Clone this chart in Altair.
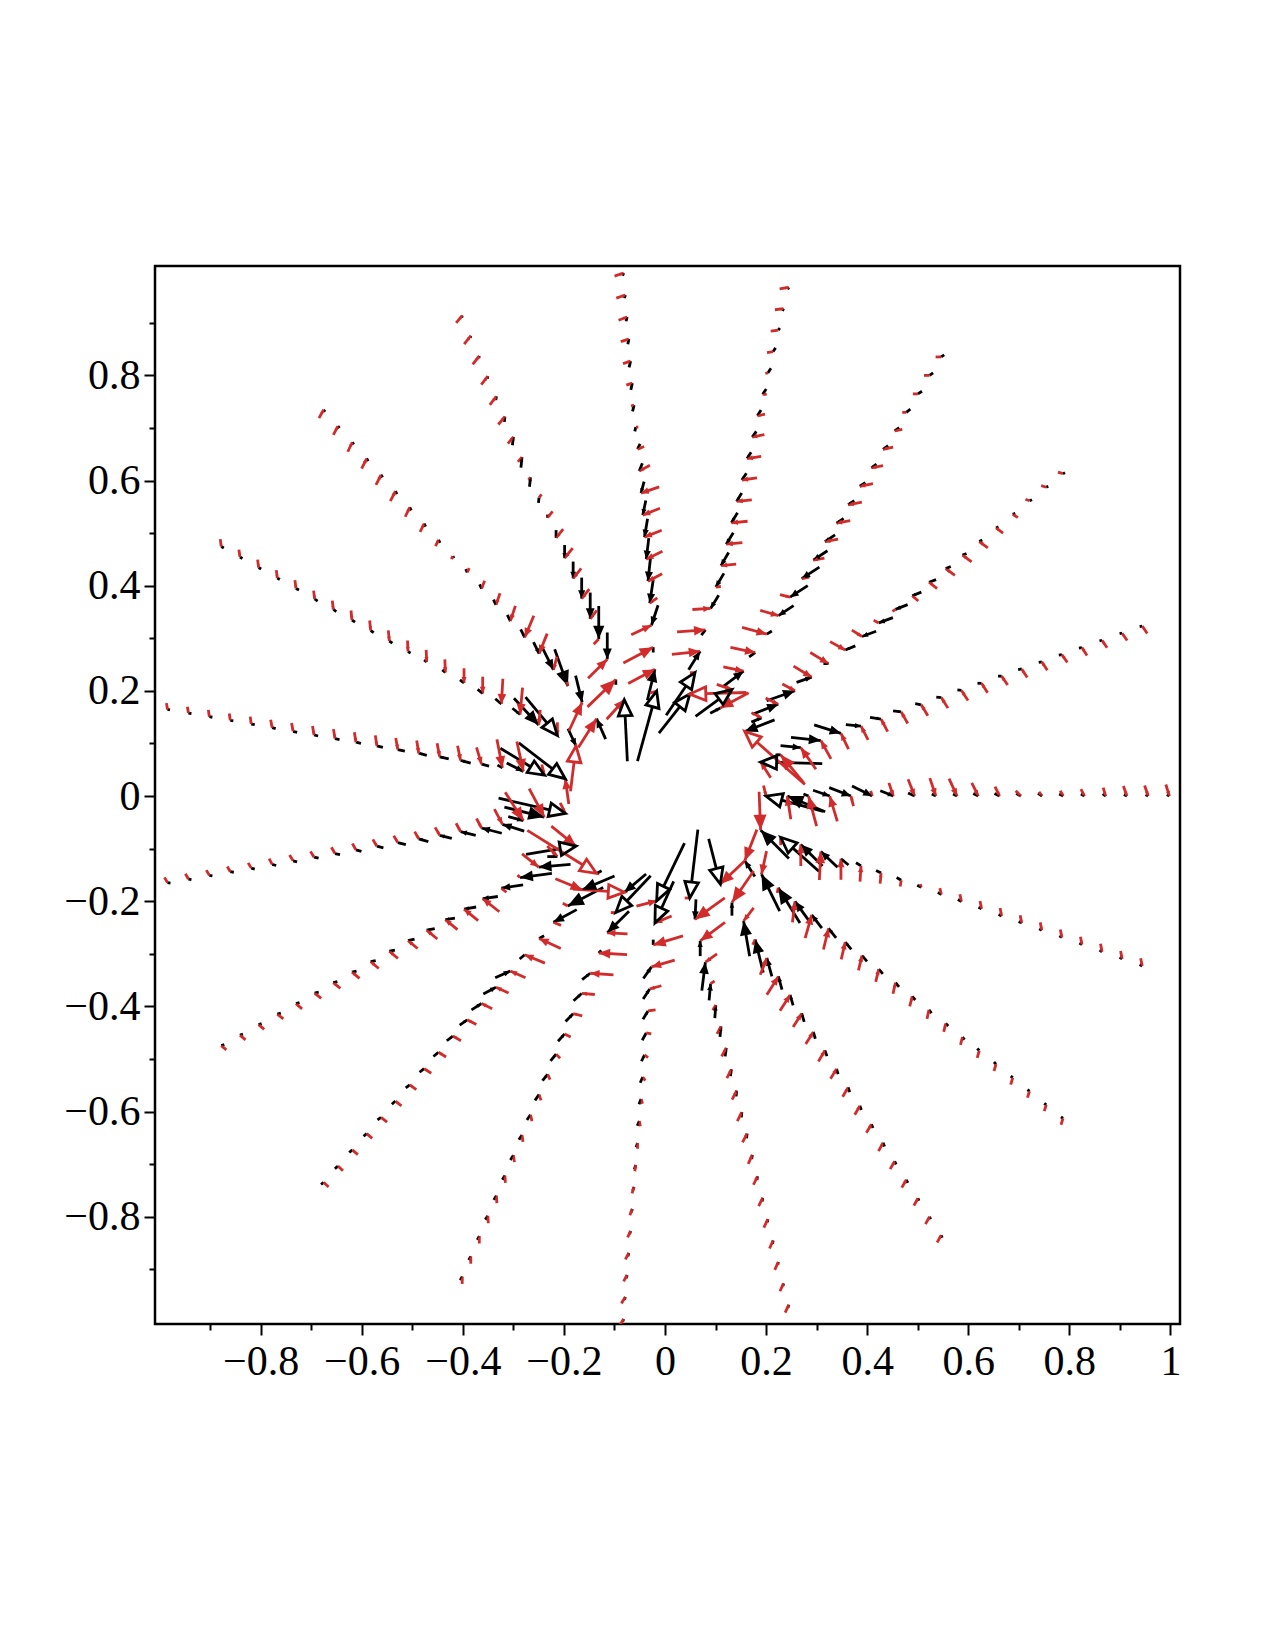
import math
import altair as alt
import pandas as pd

# ---------------- data ----------------
RAY_ANGLES = [0.0, 18.9, 37.9, 56.8, 75.8, 94.7, 113.7, 132.6, 151.6, 170.5,
              189.5, 208.4, 227.4, 246.3, 265.3, 284.2, 303.2, 322.1, 341.1]
RADII = [0.200, 0.242, 0.284, 0.326, 0.368, 0.410, 0.452, 0.494, 0.536, 0.578,
         0.620, 0.662, 0.704, 0.746, 0.788, 0.830, 0.872, 0.914, 0.956, 0.998]

# arrow vectors (dx, dy) per ray, innermost point first; each arrow ends at its point
BLACK = [
 [(-0.113,0.029),(-0.075,0.030),(0.010,-0.004),(0.033,-0.011),(0.043,-0.016),(0.040,-0.019),(0.026,-0.010),(0.013,-0.006),(0.008,-0.004),(0.008,-0.004),(0.010,-0.005),(0.010,-0.005),(0.009,-0.005),(0.008,-0.005),(0.008,-0.004),(0.007,-0.004),(0.006,-0.004),(0.006,-0.003),(0.005,-0.003),(0.005,-0.003)],
 [(-0.122,0.003),(0.010,0.000),(0.040,-0.004),(0.059,-0.006),(0.053,-0.016),(0.030,-0.003),(0.022,-0.003),(0.016,-0.002),(0.012,-0.002),(0.010,-0.001),(0.008,-0.001),(0.008,0.000),(0.007,0.000),(0.007,0.001),(0.006,0.001),(0.006,0.001),(0.006,0.001),(0.005,0.001),(0.005,0.001),(0.005,0.001)],
 [(-0.059,-0.022),(0.020,0.008),(0.051,0.019),(0.056,0.019),(0.030,0.010),(0.010,0.000),(-0.020,-0.008),(-0.028,-0.010),(-0.028,-0.010),(-0.024,-0.009),(-0.018,-0.007),(-0.014,-0.005),(-0.010,-0.004),(-0.008,-0.003),(-0.006,-0.003),(-0.005,-0.002),(-0.005,-0.002),(-0.005,-0.002),(-0.004,-0.002),(-0.004,-0.002)],
 [(0.020,0.010),(0.072,0.051),(0.040,0.029),(0.012,0.008),(-0.010,-0.006),(-0.030,-0.019),(-0.035,-0.022),(-0.035,-0.022),(-0.028,-0.018),(-0.020,-0.013),(-0.014,-0.009),(-0.012,-0.008),(-0.011,-0.007),(-0.010,-0.007),(-0.010,-0.007),(-0.009,-0.006),(-0.008,-0.006),(-0.008,-0.005),(-0.007,-0.005),(-0.006,-0.004)],
 [(0.061,0.074),(0.057,0.081),(0.023,0.035),(0.008,0.010),(-0.016,-0.025),(-0.016,-0.026),(-0.015,-0.025),(-0.014,-0.022),(-0.012,-0.019),(-0.010,-0.016),(-0.009,-0.013),(-0.008,-0.012),(-0.008,-0.011),(-0.007,-0.011),(-0.007,-0.010),(-0.006,-0.009),(-0.005,-0.007),(-0.003,-0.004),(0.002,0.004),(0.002,0.004)],
 [(0.038,0.133),(0.015,0.059),(0.000,0.010),(-0.013,-0.038),(-0.007,-0.045),(-0.005,-0.045),(-0.005,-0.040),(-0.006,-0.035),(-0.006,-0.028),(-0.006,-0.022),(-0.006,-0.015),(-0.005,-0.010),(0.002,0.008),(0.003,0.012),(0.003,0.013),(0.003,0.012),(0.002,0.010),(0.002,0.008),(0.002,0.006),(0.002,0.005)],
 [(-0.006,0.117),(0.000,0.010),(0.000,-0.051),(0.000,-0.063),(0.000,-0.050),(0.000,-0.040),(0.000,-0.032),(0.000,-0.025),(0.000,-0.015),(0.000,-0.006),(0.001,0.010),(0.002,0.018),(0.002,0.020),(0.002,0.016),(0.001,0.010),(0.001,0.007),(0.001,0.005),(0.001,0.004),(0.001,0.004),(0.001,0.004)],
 [(-0.018,0.039),(0.013,-0.051),(0.026,-0.070),(0.023,-0.044),(0.011,-0.022),(0.008,-0.015),(0.006,-0.012),(0.005,-0.010),(0.004,-0.008),(0.003,-0.006),(-0.002,0.004),(-0.003,0.006),(-0.003,0.006),(-0.003,0.006),(-0.003,0.006),(-0.003,0.005),(-0.003,0.005),(-0.003,0.004),(-0.003,0.004),(-0.003,0.004)],
 [(0.016,-0.033),(0.063,-0.073),(0.049,-0.051),(0.015,-0.012),(0.012,-0.010),(0.010,-0.008),(0.008,-0.006),(0.006,-0.005),(0.005,-0.004),(-0.005,0.003),(-0.006,0.004),(-0.006,0.004),(-0.006,0.004),(-0.006,0.004),(-0.006,0.004),(-0.006,0.003),(-0.005,0.003),(-0.005,0.003),(-0.005,0.003),(-0.005,0.003)],
 [(0.092,-0.068),(0.087,-0.051),(0.033,-0.016),(0.010,-0.005),(-0.015,0.004),(-0.020,0.005),(-0.018,0.004),(-0.016,0.004),(-0.014,0.003),(-0.012,0.003),(-0.010,0.002),(-0.009,0.002),(-0.008,0.002),(-0.008,0.002),(-0.007,0.002),(-0.007,0.001),(-0.006,0.001),(-0.006,0.001),(-0.006,0.001),(-0.005,0.001)],
 [(0.132,-0.029),(0.079,-0.019),(0.030,-0.008),(-0.043,0.013),(-0.040,0.010),(-0.030,0.007),(-0.024,0.006),(-0.019,0.005),(-0.016,0.004),(-0.013,0.003),(-0.011,0.003),(-0.010,0.002),(-0.009,0.002),(-0.008,0.002),(-0.008,0.002),(-0.007,0.002),(-0.007,0.001),(-0.006,0.001),(-0.006,0.001),(-0.006,0.001)],
 [(0.099,0.016),(0.020,0.000),(-0.063,-0.005),(-0.063,-0.008),(-0.043,-0.006),(-0.030,-0.004),(-0.024,-0.004),(-0.019,-0.003),(-0.016,-0.003),(-0.013,-0.003),(-0.011,-0.002),(-0.010,-0.002),(-0.009,-0.002),(-0.008,-0.002),(-0.008,-0.002),(-0.007,-0.002),(-0.007,-0.002),(-0.006,-0.002),(-0.006,-0.002),(-0.006,-0.002)],
 [(-0.010,-0.005),(-0.064,-0.026),(-0.070,-0.035),(-0.046,-0.024),(-0.010,-0.005),(0.010,0.008),(0.030,0.013),(0.025,0.013),(0.020,0.012),(0.015,0.010),(0.012,0.009),(0.010,0.008),(0.009,0.007),(0.008,0.006),(0.007,0.006),(0.007,0.005),(0.006,0.005),(0.006,0.005),(0.006,0.005),(0.005,0.004)],
 [(-0.043,-0.035),(-0.069,-0.070),(-0.043,-0.041),(-0.005,-0.005),(0.016,0.012),(0.016,0.014),(0.015,0.015),(0.013,0.014),(0.011,0.013),(0.010,0.012),(0.008,0.011),(0.007,0.010),(0.006,0.009),(0.006,0.009),(0.005,0.008),(0.005,0.008),(0.005,0.007),(0.004,0.007),(0.004,0.007),(0.004,0.007)],
 [(-0.055,-0.110),(-0.037,-0.079),(0.000,-0.010),(0.016,0.022),(0.013,0.019),(0.010,0.016),(0.008,0.014),(0.006,0.012),(0.005,0.011),(0.004,0.010),(0.004,0.009),(0.003,0.008),(0.003,0.008),(0.003,0.007),(0.003,0.007),(0.002,0.006),(0.002,0.006),(0.002,0.006),(0.002,0.005),(0.002,0.005)],
 [(-0.016,-0.130),(-0.002,-0.038),(0.000,0.029),(0.007,0.054),(0.003,0.032),(0.002,0.025),(0.002,0.020),(0.002,0.016),(0.002,0.013),(0.001,0.011),(0.001,0.010),(0.001,0.009),(0.001,0.008),(0.001,0.007),(0.001,0.007),(0.001,0.006),(0.001,0.006),(0.001,0.005),(0.001,0.005),(0.001,0.005)],
 [(0.023,-0.086),(0.000,0.025),(-0.012,0.067),(-0.016,0.063),(-0.010,0.035),(-0.007,0.025),(-0.006,0.020),(-0.005,0.016),(-0.004,0.013),(-0.004,0.011),(-0.003,0.010),(-0.003,0.009),(-0.003,0.008),(-0.003,0.007),(-0.003,0.007),(-0.003,0.006),(-0.003,0.006),(-0.002,0.005),(-0.002,0.005),(-0.002,0.005)],
 [(-0.020,0.030),(-0.036,0.070),(-0.043,0.067),(-0.030,0.040),(-0.020,0.025),(-0.015,0.018),(-0.012,0.014),(-0.010,0.011),(-0.008,0.009),(-0.007,0.008),(-0.006,0.007),(-0.005,0.006),(-0.005,0.005),(-0.004,0.005),(0.004,-0.004),(0.004,-0.004),(0.004,-0.003),(0.004,-0.003),(0.004,-0.003),(0.004,-0.003)],
 [(-0.056,0.054),(-0.076,0.065),(-0.043,0.041),(-0.033,0.030),(-0.015,0.012),(0.010,-0.006),(0.010,-0.005),(0.009,-0.005),(0.008,-0.004),(0.007,-0.004),(0.007,-0.004),(0.006,-0.003),(0.006,-0.003),(0.006,-0.003),(0.005,-0.003),(0.005,-0.003),(0.005,-0.003),(0.005,-0.003),(0.005,-0.003),(0.005,-0.003)],
]
RED = [
 [(0.005,-0.020),(-0.007,0.044),(-0.016,0.057),(-0.015,0.048),(-0.005,0.019),(0.003,-0.010),(0.009,-0.025),(0.013,-0.032),(0.012,-0.034),(0.016,-0.033),(0.013,-0.025),(0.009,-0.018),(0.010,-0.010),(0.006,-0.008),(0.006,-0.010),(0.007,-0.013),(0.005,-0.016),(0.007,-0.019),(0.007,-0.020),(0.007,-0.022)],
 [(-0.020,0.030),(-0.046,0.054),(-0.030,0.041),(-0.020,0.035),(-0.015,0.030),(-0.014,0.026),(-0.013,0.024),(-0.013,0.022),(-0.013,0.021),(-0.013,0.020),(-0.013,0.019),(-0.012,0.018),(-0.012,0.017),(-0.011,0.016),(-0.011,0.016),(-0.011,0.015),(-0.010,0.015),(-0.010,0.014),(-0.010,0.014),(-0.010,0.014)],
 [(-0.119,0.101),(0.020,-0.010),(0.025,-0.012),(0.025,-0.013),(0.036,-0.021),(0.036,-0.021),(0.030,-0.016),(0.020,-0.012),(0.010,-0.005),(0.006,0.004),(-0.012,0.010),(-0.016,0.012),(-0.018,0.013),(-0.018,0.013),(-0.017,0.012),(-0.014,0.010),(-0.010,0.006),(0.008,-0.003),(0.010,-0.003),(0.010,-0.003)],
 [(-0.056,-0.029),(0.030,-0.010),(0.040,-0.008),(0.049,-0.010),(0.049,-0.013),(0.036,-0.010),(0.020,-0.005),(-0.015,-0.003),(-0.022,-0.004),(-0.026,-0.005),(-0.027,-0.005),(-0.027,-0.005),(-0.026,-0.005),(-0.023,-0.004),(-0.020,-0.004),(-0.015,-0.003),(0.008,0.000),(0.010,0.000),(0.011,0.000),(0.011,0.000)],
 [(-0.112,-0.003),(0.010,0.000),(0.056,0.006),(0.056,0.004),(0.036,0.002),(-0.010,-0.001),(-0.030,-0.003),(-0.032,-0.003),(-0.032,-0.003),(-0.030,-0.003),(-0.030,-0.004),(-0.028,-0.004),(-0.024,-0.005),(-0.015,-0.003),(-0.008,0.000),(0.005,0.001),(0.012,0.002),(0.015,0.002),(0.017,0.002),(0.018,0.003)],
 [(0.013,0.003),(0.053,0.027),(0.059,0.030),(0.040,0.018),(-0.015,-0.010),(-0.028,-0.014),(-0.032,-0.015),(-0.034,-0.013),(-0.034,-0.013),(-0.036,-0.012),(-0.021,-0.011),(-0.013,-0.005),(-0.005,0.000),(0.006,0.002),(0.012,0.004),(0.015,0.005),(0.016,0.005),(0.017,0.006),(0.018,0.006),(0.018,0.006)],
 [(0.035,0.037),(0.056,0.052),(0.038,0.036),(0.010,0.010),(-0.013,-0.016),(-0.015,-0.018),(-0.016,-0.019),(-0.016,-0.019),(-0.014,-0.017),(-0.010,-0.012),(-0.005,-0.006),(0.004,0.005),(0.008,0.009),(0.011,0.013),(0.013,0.015),(0.013,0.016),(0.013,0.016),(0.013,0.016),(0.013,0.016),(0.012,0.014)],
 [(0.036,0.055),(0.026,0.054),(0.005,-0.020),(-0.007,-0.025),(-0.016,-0.038),(-0.018,-0.041),(-0.010,-0.029),(-0.008,-0.022),(-0.006,-0.015),(-0.004,-0.008),(0.003,0.006),(0.006,0.012),(0.008,0.016),(0.009,0.018),(0.010,0.019),(0.010,0.019),(0.010,0.019),(0.009,0.018),(0.009,0.017),(0.009,0.016)],
 [(0.011,0.086),(0.000,-0.025),(-0.003,-0.029),(-0.005,-0.051),(-0.003,-0.048),(0.000,-0.032),(0.000,-0.028),(0.001,-0.025),(0.001,-0.023),(0.001,-0.021),(0.002,-0.020),(0.002,-0.019),(0.002,-0.018),(0.002,-0.017),(0.002,-0.016),(0.002,-0.016),(0.002,-0.015),(0.002,-0.015),(0.002,-0.014),(0.002,-0.014)],
 [(-0.007,0.048),(0.005,-0.020),(0.013,-0.057),(0.011,-0.054),(0.010,-0.032),(0.006,-0.028),(0.005,-0.026),(0.004,-0.024),(0.004,-0.022),(0.003,-0.020),(0.003,-0.019),(0.003,-0.018),(0.003,-0.017),(0.003,-0.016),(0.003,-0.015),(0.002,-0.014),(0.002,-0.013),(0.002,-0.013),(0.002,-0.012),(0.002,-0.012)],
 [(0.010,-0.020),(0.030,-0.054),(0.036,-0.054),(0.016,-0.029),(0.010,-0.018),(0.009,-0.016),(0.009,-0.015),(0.008,-0.014),(0.008,-0.013),(0.008,-0.013),(0.007,-0.012),(0.007,-0.012),(0.007,-0.011),(0.007,-0.011),(0.006,-0.011),(0.006,-0.010),(0.006,-0.010),(0.006,-0.010),(0.006,-0.010),(0.006,-0.010)],
 [(0.049,-0.038),(0.020,-0.020),(0.033,-0.025),(0.005,-0.005),(-0.010,0.008),(-0.033,0.025),(-0.028,0.022),(-0.024,0.019),(-0.021,0.017),(-0.019,0.015),(-0.017,0.014),(-0.016,0.013),(-0.015,0.012),(-0.014,0.011),(-0.013,0.010),(-0.012,0.010),(-0.012,0.009),(-0.011,0.009),(-0.011,0.009),(-0.010,0.008)],
 [(0.137,-0.082),(0.053,-0.021),(0.010,-0.005),(-0.015,0.006),(-0.043,0.019),(-0.040,0.016),(-0.030,0.013),(-0.025,0.011),(-0.021,0.010),(-0.018,0.009),(-0.016,0.009),(-0.015,0.009),(-0.014,0.009),(-0.013,0.009),(-0.012,0.009),(-0.012,0.009),(-0.011,0.009),(-0.011,0.009),(-0.010,0.009),(-0.010,0.009)],
 [(0.102,-0.006),(0.010,0.000),(-0.040,0.002),(-0.056,0.003),(-0.046,0.003),(-0.026,0.002),(-0.018,0.004),(-0.012,0.006),(-0.008,0.008),(-0.005,0.010),(-0.004,0.011),(-0.003,0.012),(-0.002,0.013),(-0.002,0.013),(-0.001,0.014),(-0.001,0.014),(-0.001,0.014),(0.000,0.014),(0.000,0.014),(0.000,0.014)],
 [(0.040,0.010),(-0.033,-0.013),(-0.059,-0.017),(-0.046,-0.013),(-0.023,-0.006),(-0.015,-0.002),(-0.010,0.002),(-0.007,0.005),(-0.005,0.007),(-0.003,0.009),(-0.002,0.010),(0.000,0.011),(0.002,0.012),(0.004,0.012),(0.005,0.012),(0.006,0.012),(0.007,0.012),(0.007,0.012),(0.008,0.012),(0.008,0.012)],
 [(0.010,0.000),(-0.059,-0.041),(-0.049,-0.035),(-0.023,-0.016),(-0.008,-0.005),(0.006,0.010),(0.008,0.014),(0.009,0.016),(0.009,0.017),(0.009,0.017),(0.009,0.017),(0.009,0.017),(0.008,0.017),(0.008,0.016),(0.008,0.016),(0.008,0.016),(0.007,0.015),(0.007,0.015),(0.007,0.015),(0.007,0.015)],
 [(-0.048,-0.044),(-0.043,-0.060),(-0.020,-0.025),(0.005,0.010),(0.013,0.032),(0.023,0.035),(0.020,0.030),(0.017,0.026),(0.015,0.023),(0.013,0.021),(0.012,0.019),(0.011,0.018),(0.010,0.017),(0.010,0.016),(0.009,0.016),(0.009,0.015),(0.009,0.015),(0.008,0.014),(0.008,0.014),(0.008,0.014)],
 [(-0.024,-0.059),(-0.010,-0.044),(0.002,0.010),(0.005,0.040),(0.013,0.044),(0.010,0.040),(0.008,0.033),(0.007,0.028),(0.006,0.024),(0.005,0.021),(0.005,0.019),(0.004,0.017),(0.004,0.016),(0.004,0.015),(0.004,0.014),(0.004,0.013),(0.004,0.013),(0.004,0.012),(0.004,0.012),(0.004,0.012)],
 [(0.003,-0.073),(0.000,0.015),(0.000,0.041),(0.003,0.054),(0.000,0.040),(0.002,0.030),(0.002,0.020),(0.002,0.012),(0.002,-0.006),(0.003,-0.012),(0.003,-0.014),(0.003,-0.015),(0.003,-0.015),(0.003,-0.015),(0.003,-0.015),(0.003,-0.015),(0.003,-0.015),(0.003,-0.015),(0.003,-0.015),(0.003,-0.015)],
]

X_DOMAIN = [-1.009, 1.019]
Y_DOMAIN = [-1.004, 1.008]
W, H = 1025, 1058
KX = W / (X_DOMAIN[1] - X_DOMAIN[0])
KY = H / (Y_DOMAIN[1] - Y_DOMAIN[0])

rows = []
for color, field in (("#000000", BLACK), ("#d22b2b", RED)):
    for k, th in enumerate(RAY_ANGLES):
        for j, r in enumerate(RADII):
            hx = r * math.cos(math.radians(th))
            hy = r * math.sin(math.radians(th))
            dx, dy = field[k][j]
            px, py = dx * KX, dy * KY
            lpx = math.hypot(px, py)
            if lpx == 0:
                continue
            ux, uy = dx / lpx, dy / lpx
            h = min(0.40 * lpx, 16.0)
            is_open = lpx > 42
            cut = h if is_open else 0.0
            ang = math.degrees(math.atan2(px, py)) % 360
            rows.append(dict(c=color, x=hx, y=hy, tx=hx - dx, ty=hy - dy,
                             ex=hx - ux * cut, ey=hy - uy * cut,
                             ang=ang, sz=h * h, op="open" if is_open else "fill"))
df = pd.DataFrame(rows)

xs = alt.Scale(domain=X_DOMAIN, nice=False, zero=False)
ys = alt.Scale(domain=Y_DOMAIN, nice=False, zero=False)
tick_vals_x = [round(-0.9 + 0.1 * i, 1) for i in range(20)]
tick_vals_y = [round(-0.9 + 0.1 * i, 1) for i in range(19)]
lab = ("round(datum.value*10) % 2 != 0 ? '' : (datum.value < 0 ? '\u2212' + format(-datum.value, '.1~f') "
       ": format(datum.value, '.1~f'))")
tsize = {"condition": {"test": "round(datum.value*10) % 2 != 0", "value": 6}, "value": 11}
xa = alt.Axis(values=tick_vals_x, labelExpr=lab, tickSize=tsize, title=None)
ya = alt.Axis(values=tick_vals_y, labelExpr=lab, tickSize=tsize, title=None)

base = alt.Chart(df)
PATH = "M0,0L-0.85,2L0.85,2Z"

shafts = base.mark_rule(strokeWidth=2.8, clip=True).encode(
    x=alt.X("tx:Q", scale=xs, axis=xa), y=alt.Y("ty:Q", scale=ys, axis=ya),
    x2="ex:Q", y2="ey:Q", color=alt.Color("c:N", scale=None),
    detail="c:N")
heads_fill = base.transform_filter("datum.op == 'fill'").mark_point(
    shape=PATH, filled=True, opacity=1, clip=True).encode(
    x=alt.X("x:Q", scale=xs, axis=xa), y=alt.Y("y:Q", scale=ys, axis=ya),
    angle=alt.Angle("ang:Q", scale=None), size=alt.Size("sz:Q", scale=None),
    color=alt.Color("c:N", scale=None))
heads_open = base.transform_filter("datum.op == 'open'").mark_point(
    shape=PATH, filled=False, opacity=1, strokeWidth=2.8, clip=True).encode(
    x=alt.X("x:Q", scale=xs, axis=xa), y=alt.Y("y:Q", scale=ys, axis=ya),
    angle=alt.Angle("ang:Q", scale=None), size=alt.Size("sz:Q", scale=None),
    color=alt.Color("c:N", scale=None))

chart = alt.layer(shafts, heads_fill, heads_open).properties(
    width=W, height=H,
    autosize=alt.AutoSizeParams(type="none"),
    padding={"left": 155, "top": 266, "right": 95, "bottom": 326},
).configure_view(stroke="black", strokeWidth=2.5).configure_axis(
    domain=False, grid=False, tickColor="black", tickWidth=2,
    labelFont="Liberation Serif", labelFontSize=42, labelColor="black",
    labelPadding=4,
).configure_axisX(labelPadding=6)

chart.save("out.html", embed_options={"renderer": "svg", "actions": False})
